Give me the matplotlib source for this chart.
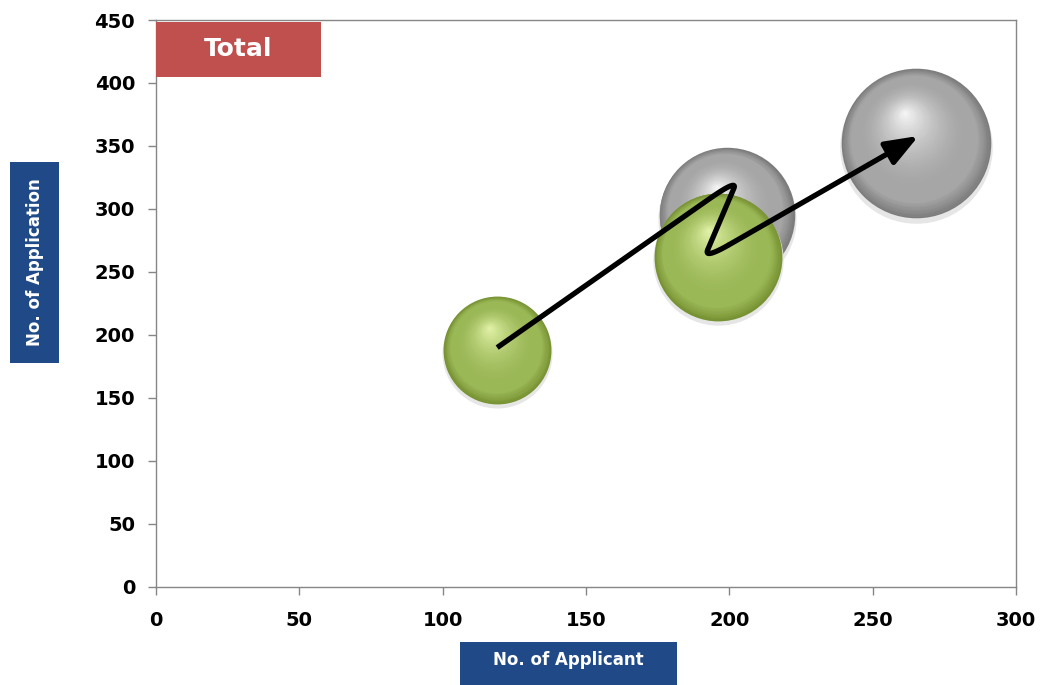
import numpy as np
import matplotlib
matplotlib.use("Agg")
import matplotlib.pyplot as plt
from matplotlib.patches import Rectangle
from matplotlib.transforms import offset_copy
from matplotlib.colors import to_rgb

# data
green_x = [119, 196]
green_y = [188, 262]
green_size = [52, 73]
gray_x = [199, 265]
gray_y = [295, 352]
gray_size = [82, 100]

x_ticks = [0, 50, 100, 150, 200, 250, 300]
y_ticks = [0, 50, 100, 150, 200, 250, 300, 350, 400, 450]

title = "Total"
x_label = "No. of Applicant"
y_label = "No. of Application"

fig = plt.figure(figsize=(10.4, 6.85), dpi=100)
ax = fig.add_axes([0.15, 0.1431, 0.827, 0.8277])
ax.set_xlim(0, 300)
ax.set_ylim(0, 450)

S_MAX = 11600  # marker area (pt^2) of the biggest bubble


def mix(c1, c2, t):
    a = np.array(to_rgb(c1))
    b = np.array(to_rgb(c2))
    return tuple(a + (b - a) * t)


def sphere(x, y, s, edge, mid, hi, z):
    r = np.sqrt(s) / 2
    # light rim / soft shadow below
    tr = offset_copy(ax.transData, fig, x=0, y=-0.05 * r, units="points")
    ax.scatter([x], [y], s=(2 * r * 1.02) ** 2, color="#e4e4e4", alpha=0.9,
               linewidths=0, transform=tr, zorder=z)
    n = 60
    for i in range(n):
        t = i / n
        rad = r * (1 - t)
        ox, oy = -0.15 * r * t, 0.42 * r * t
        if t < 0.15:
            col = mix(edge, mid, t / 0.15)
        elif t < 0.3:
            col = mid
        else:
            col = mix(mid, hi, ((t - 0.3) / 0.7) ** 1.6)
        tr = offset_copy(ax.transData, fig, x=ox, y=oy, units="points")
        ax.scatter([x], [y], s=(2 * rad) ** 2, color=col, linewidths=0,
                   transform=tr, zorder=z + 0.01 * i)


# gray bubbles first so the green one sits on top
for x, y, v in zip(gray_x, gray_y, gray_size):
    sphere(x, y, v / max(gray_size) * S_MAX, "#7c7c7c", "#a6a6a6", "#f8f8f8", 2)
for x, y, v in zip(green_x, green_y, green_size):
    sphere(x, y, v / max(gray_size) * S_MAX, "#779232", "#9bb857", "#e4f4aa", 4)


def rounded(pts, frac=0.12, n=12):
    # polyline with softened corners (quadratic bezier at each inner vertex)
    pts = [np.array(p, float) for p in pts]
    out = [pts[0]]
    for i in range(1, len(pts) - 1):
        a = pts[i] + (pts[i - 1] - pts[i]) * frac
        b = pts[i] + (pts[i + 1] - pts[i]) * frac
        for t in np.linspace(0, 1, n):
            out.append((1 - t) ** 2 * a + 2 * t * (1 - t) * pts[i] + t ** 2 * b)
    out.append(pts[-1])
    return np.array(out)


# zig-zag trend arrow through the bubbles
corners = [(green_x[0], green_y[0] + 2),
           (gray_x[0] + 4, gray_y[0] + 29),
           (green_x[1] - 5, green_y[1] - 2),
           (gray_x[1] + 1, gray_y[1] + 6)]
path = rounded(corners)
ax.plot(path[:-1, 0], path[:-1, 1], color="black", lw=3.8,
        solid_joinstyle="round", solid_capstyle="butt", zorder=10)
ax.annotate("", xy=tuple(path[-1]), xytext=tuple(path[-2]),
            arrowprops=dict(arrowstyle="-|>,head_length=1.1,head_width=0.42",
                            color="black", lw=3.8, mutation_scale=18,
                            shrinkA=0, shrinkB=0), zorder=10)

# axes styling
for sp in ax.spines.values():
    sp.set_color("#868686")
    sp.set_linewidth(1)
ax.set_xticks(x_ticks)
ax.set_yticks(y_ticks)
ax.tick_params(axis="both", direction="out", length=6, width=1,
               color="#868686", labelsize=14)
ax.tick_params(axis="x", pad=11)
ax.tick_params(axis="y", pad=9)
for lab in ax.get_xticklabels() + ax.get_yticklabels():
    lab.set_fontweight("bold")

# title box
ax.add_patch(Rectangle((0.0, 0.899), 0.192, 0.0975, transform=ax.transAxes,
                       facecolor="#c0504d", edgecolor="none", zorder=12,
                       clip_on=False))
ax.text(0.096, 0.948, title, transform=ax.transAxes, ha="center", va="center",
        color="white", fontsize=18, fontweight="bold", zorder=13)

# axis label boxes
fig.patches.append(Rectangle((0.0096, 0.470), 0.047, 0.293,
                             transform=fig.transFigure, facecolor="#1f4a87",
                             edgecolor="none"))
fig.text(0.0332, 0.617, y_label, rotation=90, ha="center", va="center",
         color="white", fontsize=12, fontweight="bold")
fig.patches.append(Rectangle((0.442, 0.0), 0.2087, 0.0628,
                             transform=fig.transFigure, facecolor="#1f4a87",
                             edgecolor="none"))
fig.text(0.546, 0.036, x_label, ha="center", va="center",
         color="white", fontsize=12, fontweight="bold")

fig.savefig("out.png", dpi=100)
